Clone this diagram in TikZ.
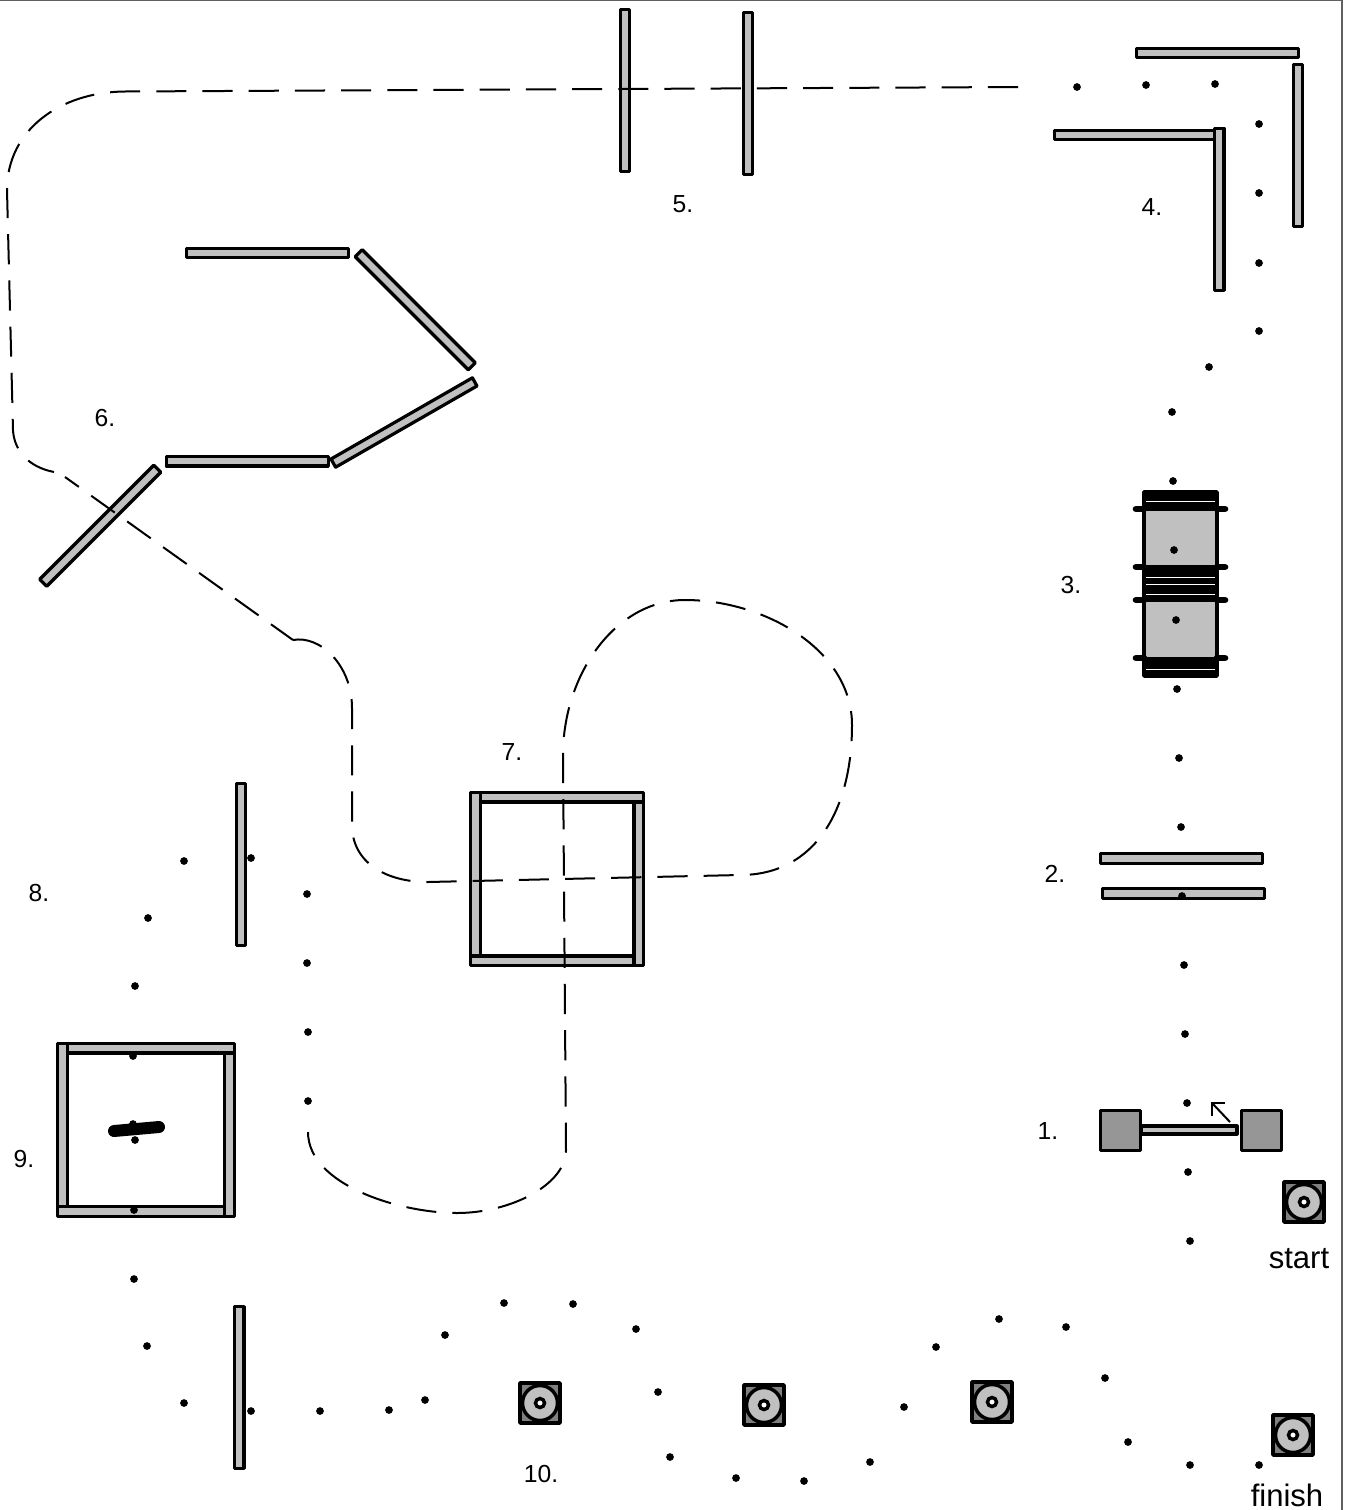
\documentclass[tikz,border=0pt]{standalone}
\usepackage{fontspec}
\setmainfont{Liberation Sans}
\definecolor{wallgray}{HTML}{C0C0C0}
\definecolor{blockgray}{HTML}{969696}
\definecolor{icongray}{HTML}{808080}
\definecolor{framegray}{HTML}{606060}
\tikzset{
  px/.style={x=0.75pt,y=-0.75pt},
  wall/.style={draw=black,fill=wallgray,line width=2.4pt,line join=round},
  block/.style={draw=black,fill=blockgray,line width=2.6pt,line join=round},
  track/.style={draw=black,line width=1.5pt,dash pattern=on 22.6pt off 12.05pt},
  dot/.style={circle,fill=black,inner sep=0pt,minimum size=5.8pt},
  lab/.style={font=\fontsize{18.5}{20}\selectfont,inner sep=0pt},
  biglab/.style={font=\fontsize{23.3}{25}\selectfont,inner sep=0pt},
  coilline/.style={draw=black,line width=2.25pt},
  tab/.style={draw=black,line width=5pt,line cap=round},
  icon/.pic={
    \fill[icongray,draw=black,line width=2.6pt,line join=round] (-20,-20) rectangle (20,20);
    \draw[fill=wallgray,line width=2.6pt] (0,0) circle (17.5);
    \draw[fill=white,line width=2.6pt] (0,0) circle (4.5);
  }
}
\newcommand\wallbox[4]{\draw[wall] (#1+1.6,#2+1.6) rectangle (#3-1.6,#4-1.6);}
\begin{document}
\begin{tikzpicture}[px]
\useasboundingbox (0,0) rectangle (1346,1510);
\draw[framegray,line width=1pt] (0,0.5) -- (1342,0.5) -- (1342,1510);
% walls 5
\wallbox{618.5}{8}{631}{173}
\wallbox{741.5}{11}{754}{176}
% walls 4
\wallbox{1134.5}{46.5}{1300}{59}
\wallbox{1291.5}{62.5}{1304}{228}
\wallbox{1052.5}{128.5}{1218}{141}
\wallbox{1213}{126.5}{1225.5}{292}
% walls 6
\wallbox{184.5}{246.5}{350}{259}
\draw[wall] (362.2,249.7) -- (475.3,362.8) -- (468.3,369.8) -- (355.2,256.7) -- cycle;
\draw[wall] (472.4,377.8) -- (477,386) -- (335.6,467.2) -- (331,459) -- cycle;
\wallbox{164.5}{455}{330}{467.5}
\draw[wall] (160.8,472.2) -- (153.8,465.2) -- (39.7,579.3) -- (46.7,586.3) -- cycle;
% square 7
\draw[wall] (470.5,792.5) rectangle (480.2,956);
\draw[wall] (480.2,792.5) rectangle (643.5,802);
\draw[wall] (634,802) rectangle (643.5,965.5);
\draw[wall] (470.5,956) rectangle (634,965.5);
% wall 8 and lower wall
\wallbox{234.5}{782}{247}{947}
\wallbox{233}{1305}{245.5}{1470}
% square 9
\draw[wall] (57.5,1043.5) rectangle (67.4,1206.6);
\draw[wall] (67.4,1043.5) rectangle (234.5,1053);
\draw[wall] (224.6,1053) rectangle (234.5,1216.5);
\draw[wall] (57.5,1206.6) rectangle (224.6,1216.5);
\draw[draw=black,line width=9pt,line cap=round] (114,1131) -- (159,1127);
% walls 2
\wallbox{1099}{852}{1264}{865}
\wallbox{1101}{887}{1266}{900}
% item 3
\foreach \y in {493,496.4,499.8,503.2,506.6, 569,572.4,575.8,579.2,582.6,586,589.4,592.8,596.2, 661,664.4,667.8,671.2,674.6}
  \draw[coilline] (1144,\y) -- (1217,\y);
\draw[wall] (1144,509) rectangle (1217,567);
\draw[wall] (1144,600) rectangle (1217,659);
\draw[line width=2.6pt,line join=round] (1144,492) rectangle (1217,676);
\foreach \y in {509,567,600,658}{
  \draw[tab] (1136,\y) -- (1144,\y);
  \draw[tab] (1217,\y) -- (1225,\y);
}
% item 1
\draw[wall] (1141,1126) rectangle (1237,1134);
\draw[block] (1100.5,1110.5) rectangle (1140.5,1150.5);
\draw[block] (1241.5,1110.5) rectangle (1281.5,1150.5);
\coordinate (arrowfoot) at (1230,1122);
\coordinate (arrowtip) at (1212,1103);
\draw[line width=1.5pt] (arrowfoot) -- (arrowtip);
\draw[line width=1.5pt] (1224.5,1103) -- (arrowtip) -- (1212,1116);
% icons
\pic at (1304,1202) {icon};
\pic at (1293,1435) {icon};
\pic at (540,1403) {icon};
\pic at (764,1405) {icon};
\pic at (992,1402) {icon};
% dashed track
\draw[track] (1018,87) -- (125,91.5) .. controls (60,92) and (7,130) .. (7,190)
  -- (13,430) .. controls (14,450) and (28,467) .. (54,472);
\coordinate (kinkA) at (65,477);
\coordinate (kinkB) at (293,640);
\draw[draw=black,line width=1.5pt,dash pattern=on 21.75pt off 11.4pt,dash phase=9pt] (kinkA) -- (kinkB);
\draw[track] (kinkB) .. controls (320,635) and (352,665) .. (352,708)
  -- (352,825) .. controls (352,862) and (385,882) .. (428,882)
  -- (740,875) .. controls (815,875) and (852,810) .. (852,725)
  .. controls (852,650) and (765,600) .. (685,600)
  .. controls (615,600) and (563,675) .. (563,755)
  -- (566,1150) .. controls (566,1185) and (510,1213) .. (457,1213)
  .. controls (400,1213) and (308,1185) .. (308,1132);
% dots
\foreach \x/\y [count=\n] in {1190/1241,1188/1172,1187/1103,1185/1034,1184/965,1182/896,1181/827,1179/758,1177/689,1176/620,1174/550,1173/481,1172/412,1209/367,1259/331,1259/263,1259/193,1259/124,1215/84,1146/85,1077/87,251/858,184/861,148/918,135/986,133/1056,133/1124,135/1140,134/1210,134/1279,147/1346,184/1403,251/1411,320/1411,389/1410,425/1400,445/1335,504/1303,573/1304,636/1329,658/1392,670/1457,736/1478,804/1481,870/1462,904/1407,936/1347,999/1319,1066/1327,1105/1378,1128/1442,1190/1465,1259/1465,307/894,307/963,308/1032,308/1101}
  \node[dot] (d\n) at (\x,\y) {};
% labels
\node[lab] (l1) at (1048,1131) {1.};
\node[lab] (l2) at (1055,874) {2.};
\node[lab] (l3) at (1071,585) {3.};
\node[lab] (l4) at (1152,207) {4.};
\node[lab] (l5) at (683,204) {5.};
\node[lab] (l6) at (105,418) {6.};
\node[lab] (l7) at (512,752) {7.};
\node[lab] (l8) at (39,893) {8.};
\node[lab] (l9) at (24,1159) {9.};
\node[lab] (l10) at (541,1474) {10.};
\node[biglab] (lstart) at (1299,1259) {start};
\node[biglab] (lfinish) at (1287,1495) {finish};
\end{tikzpicture}
\end{document}
